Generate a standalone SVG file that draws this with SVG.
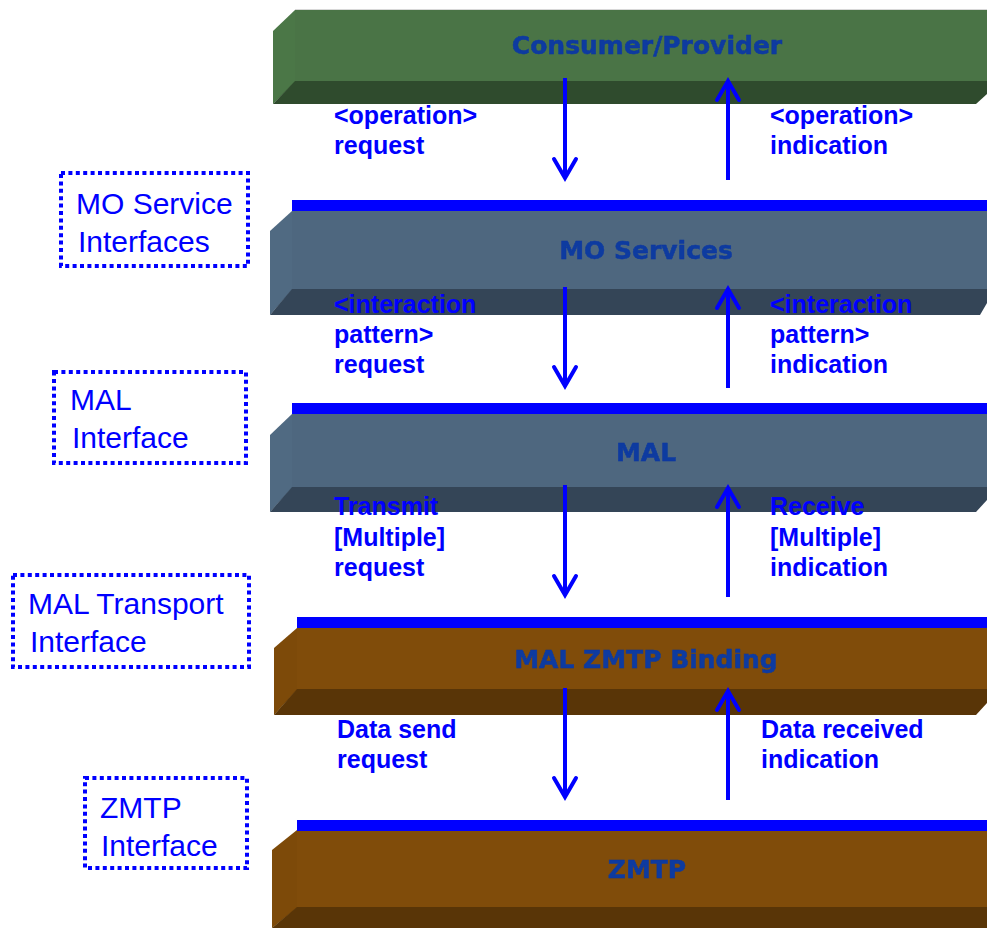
<svg xmlns="http://www.w3.org/2000/svg" width="987" height="928" viewBox="0 0 987 928">
  <style>
    .title { font-family: "DejaVu Sans", Verdana, sans-serif; font-weight: bold; font-size: 25px; fill: #0b3aa0; stroke: #0b3aa0; stroke-width: 0.5; text-anchor: middle; }
    .lbl { font-family: "Liberation Sans", Arial, sans-serif; font-weight: bold; font-size: 25px; fill: #0000ff; }
    .ifc { font-family: "Liberation Sans", Arial, sans-serif; font-size: 30px; fill: #0000ff; }
    .ifbox { fill: #ffffff; stroke: #0000ff; stroke-width: 4; stroke-dasharray: 4 3.4; }
    .bar { fill: #0000ff; }
    .g-front { fill: #4a7446; } .g-side { fill: #4b7747; } .g-base { fill: #2f4b2d; }
    .s-front { fill: #4e677f; } .s-side { fill: #506a82; } .s-base { fill: #344557; }
    .b-front { fill: #804c0a; } .b-side { fill: #7d4a09; } .b-base { fill: #593507; }
    .flow { stroke: #0000ff; stroke-width: 4; fill: none; marker-end: url(#chev); }
  </style>
  <defs>
    <marker id="chev" viewBox="-24 -16 28 32" refX="0" refY="0" markerWidth="28" markerHeight="32" markerUnits="userSpaceOnUse" orient="auto">
      <path d="M -19 -11 L 0 0 L -19 11" fill="none" stroke="#0000ff" stroke-width="4" stroke-linecap="round" stroke-linejoin="miter"/>
    </marker>
    <filter id="soft" x="-5%" y="-20%" width="110%" height="140%">
      <feGaussianBlur stdDeviation="0.55"/>
    </filter>
  </defs>

  <rect width="987" height="928" fill="#ffffff"/>

  <!-- layer blocks -->
  <g id="consumer-provider">
    <rect class="g-front" x="295" y="10" width="692" height="71"/>
    <polygon class="g-side" points="273,31 295,10 295,82 273,104"/>
    <polygon class="g-base" points="273,104 295,81 987,81 987,94 976,104"/>
    <line x1="295" y1="9.5" x2="987" y2="9.5" stroke="#d8d8d8" stroke-width="1"/>
    <text class="title" x="647" y="54" filter="url(#soft)">Consumer/Provider</text>
  </g>

  <g id="mo-services">
    <rect class="bar" x="292" y="200" width="695" height="11"/>
    <rect class="s-front" x="292" y="211" width="695" height="78"/>
    <polygon class="s-side" points="270,231 292,211 292,290 270,315"/>
    <polygon class="s-base" points="270,315 292,289 987,289 987,303 980,315"/>
    <text class="title" x="646" y="259" filter="url(#soft)">MO Services</text>
  </g>

  <g id="mal">
    <rect class="bar" x="292" y="403" width="695" height="11"/>
    <rect class="s-front" x="292" y="414" width="695" height="73"/>
    <polygon class="s-side" points="270,435 292,414 292,488 270,512"/>
    <polygon class="s-base" points="270,512 292,487 987,487 987,500 976,512"/>
    <text class="title" x="646" y="461" filter="url(#soft)">MAL</text>
  </g>

  <g id="mal-zmtp-binding">
    <rect class="bar" x="297" y="617" width="690" height="11"/>
    <rect class="b-front" x="297" y="628" width="690" height="61"/>
    <polygon class="b-side" points="274,648 297,628 297,690 274,715"/>
    <polygon class="b-base" points="274,715 297,689 987,689 987,703 976,715"/>
    <text class="title" x="646" y="668" filter="url(#soft)">MAL ZMTP Binding</text>
  </g>

  <g id="zmtp">
    <rect class="bar" x="297" y="820" width="690" height="11"/>
    <rect class="b-front" x="297" y="831" width="690" height="76"/>
    <polygon class="b-side" points="272,850 297,830 297,908 272,928"/>
    <polygon class="b-base" points="272,928 297,907 987,907 987,928"/>
    <text class="title" x="647" y="878" filter="url(#soft)">ZMTP</text>
  </g>

  <!-- interface call-outs -->
  <g id="mo-service-interfaces">
    <rect class="ifbox" x="61" y="173" width="187" height="93"/>
    <text class="ifc" x="76" y="214">MO Service</text>
    <text class="ifc" x="78" y="252">Interfaces</text>
  </g>
  <g id="mal-interface">
    <rect class="ifbox" x="54" y="372" width="192" height="91"/>
    <text class="ifc" x="70" y="410">MAL</text>
    <text class="ifc" x="72" y="448">Interface</text>
  </g>
  <g id="mal-transport-interface">
    <rect class="ifbox" x="13" y="575" width="236" height="92"/>
    <text class="ifc" x="28" y="614">MAL Transport</text>
    <text class="ifc" x="30" y="652">Interface</text>
  </g>
  <g id="zmtp-interface">
    <rect class="ifbox" x="85" y="778" width="162" height="90"/>
    <text class="ifc" x="100" y="818">ZMTP</text>
    <text class="ifc" x="101" y="856">Interface</text>
  </g>

  <!-- primitives passed between layers -->
  <g id="connectors">
    <line class="flow" x1="565" y1="78" x2="565" y2="178"/>
    <line class="flow" x1="728" y1="180" x2="728" y2="81"/>
    <line class="flow" x1="565" y1="287" x2="565" y2="386"/>
    <line class="flow" x1="728" y1="388" x2="728" y2="289"/>
    <line class="flow" x1="565" y1="485" x2="565" y2="595"/>
    <line class="flow" x1="728" y1="597" x2="728" y2="488"/>
    <line class="flow" x1="565" y1="688" x2="565" y2="797"/>
    <line class="flow" x1="728" y1="800" x2="728" y2="691"/>

    <text class="lbl" x="334" y="124">&lt;operation&gt;</text>
    <text class="lbl" x="334" y="154">request</text>
    <text class="lbl" x="770" y="124">&lt;operation&gt;</text>
    <text class="lbl" x="770" y="154">indication</text>

    <text class="lbl" x="334" y="313">&lt;interaction</text>
    <text class="lbl" x="334" y="343">pattern&gt;</text>
    <text class="lbl" x="334" y="373">request</text>
    <text class="lbl" x="770" y="313">&lt;interaction</text>
    <text class="lbl" x="770" y="343">pattern&gt;</text>
    <text class="lbl" x="770" y="373">indication</text>

    <text class="lbl" x="334" y="515">Transmit</text>
    <text class="lbl" x="334" y="546">[Multiple]</text>
    <text class="lbl" x="334" y="576">request</text>
    <text class="lbl" x="770" y="515">Receive</text>
    <text class="lbl" x="770" y="546">[Multiple]</text>
    <text class="lbl" x="770" y="576">indication</text>

    <text class="lbl" x="337" y="738">Data send</text>
    <text class="lbl" x="337" y="768">request</text>
    <text class="lbl" x="761" y="738">Data received</text>
    <text class="lbl" x="761" y="768">indication</text>
  </g>
</svg>
